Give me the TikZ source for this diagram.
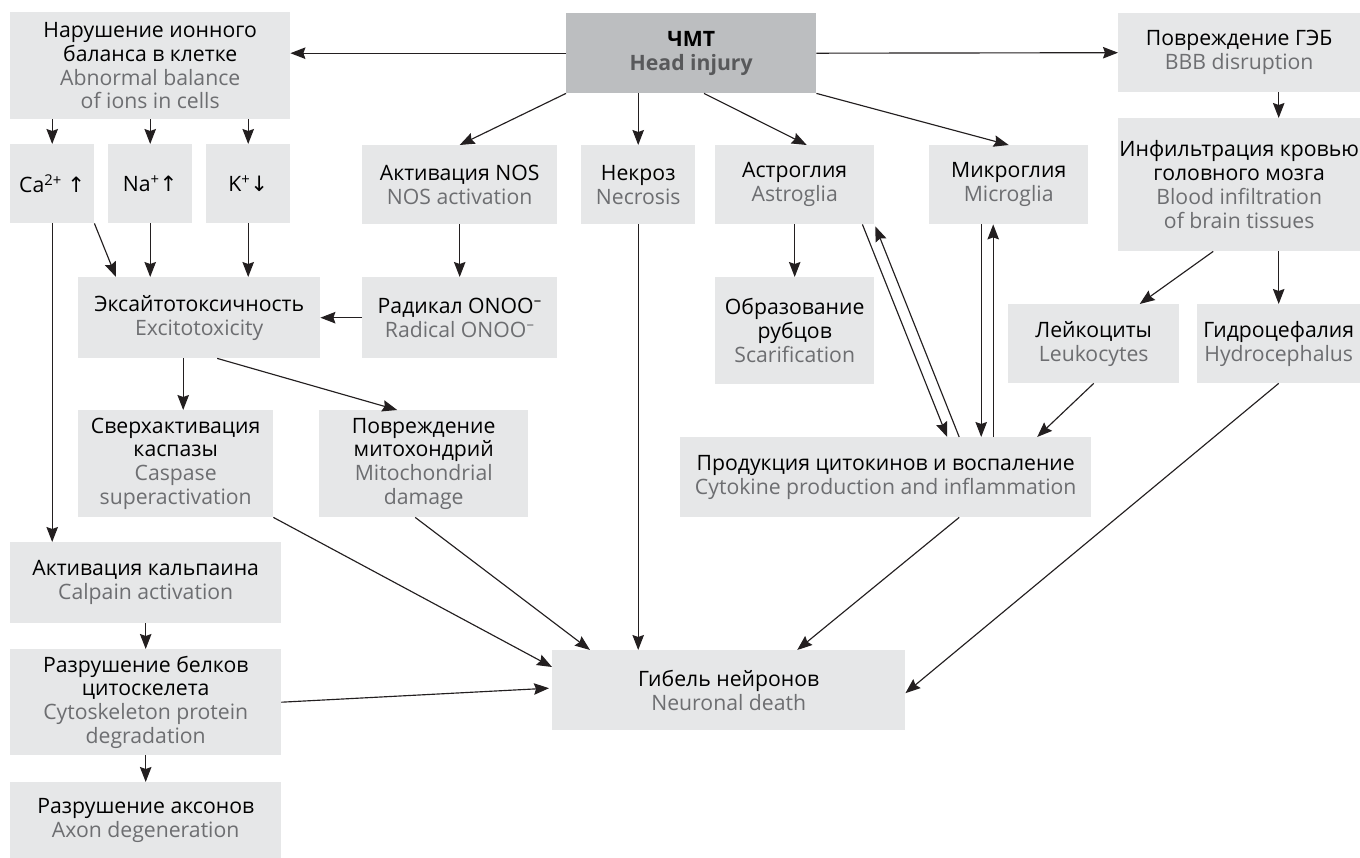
\documentclass[tikz,border=0pt]{standalone}
\usepackage{fontspec}
\setmainfont{Open Sans}
\newfontfamily\arrfont{DejaVu Sans}
\usepackage{tikz}
\usetikzlibrary{arrows.meta, calc}
\definecolor{boxFill}{HTML}{E6E7E8}
\definecolor{headFill}{HTML}{BCBEC0}
\definecolor{enGray}{HTML}{6D6E71}
\definecolor{headGray}{HTML}{58595B}
\definecolor{lineBlack}{HTML}{231F20}
\newcommand{\engl}[1]{{\color{enGray}#1}}

\begin{document}
\begin{tikzpicture}[
  x=1pt, y=-1pt,
  every node/.style={font=\fontsize{21.2}{23.8}\selectfont},
  box/.style={fill=boxFill, anchor=north west, inner sep=0pt, align=center},
  headbox/.style={box, fill=headFill},
  arr/.style={-{Stealth[length=15pt, width=11.5pt, inset=2pt]}, lineBlack, line width=1.15pt}
]
\useasboundingbox (0,0) rectangle (1360,858);

% top row
\node[headbox, minimum width=250, minimum height=80] (head) at (566,13)
  {\textbf{ЧМТ}\\{\color{headGray}\textbf{Head injury}}};
\node[box, minimum width=280, minimum height=107] (ion) at (10,12)
  {Нарушение ионного\\баланса в клетке\\\engl{Abnormal balance}\\\engl{of ions in cells}};
\node[box, minimum width=242, minimum height=79] (bbb) at (1118,13)
  {Повреждение ГЭБ\\\engl{BBB disruption}};

% ions
\node[box, minimum width=84, minimum height=79] (ca) at (10,144) {Ca\textsuperscript{2+} {\arrfont ↑}};
\node[box, minimum width=84, minimum height=79] (na) at (108,144) {Na\textsuperscript{+}{\arrfont ↑}};
\node[box, minimum width=84, minimum height=79] (k)  at (206,144) {K\textsuperscript{+}{\arrfont ↓}};

% second row
\node[box, minimum width=195, minimum height=79] (nos) at (362,145)
  {Активация NOS\\\engl{NOS activation}};
\node[box, minimum width=114, minimum height=79] (necr) at (581,145)
  {Некроз\\\engl{Necrosis}};
\node[box, minimum width=159, minimum height=79] (astro) at (715,145)
  {Астроглия\\\engl{Astroglia}};
\node[box, minimum width=159, minimum height=79] (micro) at (929,145)
  {Микроглия\\\engl{Microglia}};
\node[box, minimum width=242, minimum height=133] (infil) at (1118,118)
  {Инфильтрация кровью\\головного мозга\\\engl{Blood infiltration}\\\engl{of brain tissues}};

% third row
\node[box, minimum width=242, minimum height=81] (excito) at (78,277)
  {Эксайтотоксичность\\\engl{Excitotoxicity}};
\node[box, minimum width=195, minimum height=81] (onoo) at (362,277)
  {Радикал ONOO\textsuperscript{--}\\\engl{Radical ONOO\textsuperscript{--}}};
\node[box, minimum width=159, minimum height=107] (scar) at (715,277)
  {Образование\\рубцов\\\engl{Scarification}};
\node[box, minimum width=171, minimum height=79] (leuko) at (1008,304)
  {Лейкоциты\\\engl{Leukocytes}};
\node[box, minimum width=163, minimum height=79] (hydro) at (1197,304)
  {Гидроцефалия\\\engl{Hydrocephalus}};

% fourth row
\node[box, minimum width=195, minimum height=107] (casp) at (78,410)
  {Сверхактивация\\каспазы\\\engl{Caspase}\\\engl{superactivation}};
\node[box, minimum width=209, minimum height=107] (mito) at (319,410)
  {Повреждение\\митохондрий\\\engl{Mitochondrial}\\\engl{damage}};
\node[box, minimum width=411, minimum height=80] (cyto) at (680,437)
  {Продукция цитокинов и воспаление\\\engl{Cytokine production and inflammation}};

% bottom
\node[box, minimum width=271, minimum height=81] (calp) at (10,542)
  {Активация кальпаина\\\engl{Calpain activation}};
\node[box, minimum width=271, minimum height=106] (cytosk) at (10,649)
  {Разрушение белков\\цитоскелета\\\engl{Cytoskeleton protein}\\\engl{degradation}};
\node[box, minimum width=271, minimum height=76] (axon) at (10,782)
  {Разрушение аксонов\\\engl{Axon degeneration}};
\node[box, minimum width=353, minimum height=80] (death) at (552,650)
  {Гибель нейронов\\\engl{Neuronal death}};

% from head injury
\draw[arr] (head.west) -- (ion.east |- head.west);
\draw[arr] (head.east) -- (bbb.west);
\draw[arr] (head.south west) -- (nos.north);
\draw[arr] (necr.north |- head.south) -- (necr.north);
\draw[arr] ($(head.south west)+(138,0)$) -- ($(astro.north)+(12,0)$);
\draw[arr] (head.south east) -- (micro.north);

% ions
\draw[arr] (ion.south -| ca.north) -- (ca.north);
\draw[arr] (ion.south -| na.north) -- (na.north);
\draw[arr] (ion.south -| k.north) -- (k.north);
\draw[arr] (ca.south east) -- ($(excito.north west)+(38,0)$);
\draw[arr] (na.south) -- (na.south |- excito.north);
\draw[arr] (k.south) -- (k.south |- excito.north);
\draw[arr] (ca.south) -- (ca.south |- calp.north);

% NOS branch
\draw[arr] (nos.south) -- (onoo.north);
\draw[arr] (onoo.west) -- (excito.east);
\draw[arr] ($(excito.south)+(-16,0)$) -- ($(casp.north)+(7.5,0)$);
\draw[arr] ($(excito.south)+(18,0)$) -- ($(mito.north)+(-26.5,0)$);

% glia
\draw[arr] (astro.south) -- (scar.north);
\draw[arr] ($(astro.south east)+(-12,0)$) -- ($(cyto.north)+(61.5,0)$);
\draw[arr] ($(cyto.north)+(73.5,0)$) -- ($(astro.south east)+(1,2)$);
\draw[arr] ($(micro.south)+(-27.5,0)$) -- ($(cyto.north)+(95.5,0)$);
\draw[arr] ($(cyto.north)+(107.5,0)$) -- ($(micro.south)+(-15.5,0)$);

% BBB branch
\draw[arr] (hydro.north |- bbb.south) -- (hydro.north |- infil.north);
\draw[arr] (hydro.north |- infil.south) -- (hydro.north);
\draw[arr] ($(infil.south)+(-26,0)$) -- ($(leuko.north)+(46,0)$);
\draw[arr] (leuko.south) -- ($(cyto.north)+(151.5,0)$);

% calpain chain
\draw[arr] (calp.south) -- (cytosk.north);
\draw[arr] (cytosk.south) -- (axon.north);

% into neuronal death
\draw[arr] (casp.south east) -- ($(death.north west)+(0,17)$);
\draw[arr] ($(mito.south)+(-8.5,0)$) -- ($(death.north west)+(38,0)$);
\draw[arr] (necr.south) -- (necr.south |- death.north);
\draw[arr] ($(cyto.south)+(73.5,0)$) -- ($(death.north)+(68.5,0)$);
\draw[arr] (hydro.south) -- ($(death.east)+(0,3)$);
\draw[arr] (cytosk.east) -- ($(death.west)+(-3,-2)$);
\end{tikzpicture}
\end{document}
